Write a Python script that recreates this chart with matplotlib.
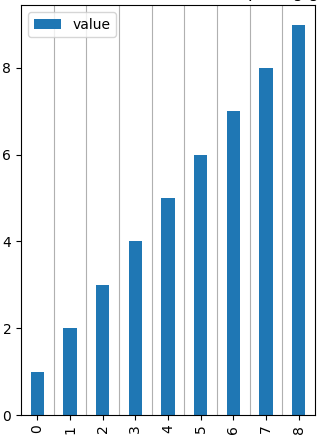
import matplotlib
matplotlib.use("Agg")
import matplotlib.pyplot as plt
import numpy as np

categories = ["0", "1", "2", "3", "4", "5", "6", "7", "8"]
values = [1, 2, 3, 4, 5, 6, 7, 8, 9]
series_name = "value"
title = "Bar chart with minor ticks as spacing grid"

fig = plt.figure(figsize=(3.18, 4.40), dpi=100)
ax = fig.add_axes([21 / 318, 25 / 440, 294 / 318, 410 / 440])

x = np.arange(len(categories))
ax.bar(x, values, width=0.4, color="#1f77b4", label=series_name)
ax.set_xlim(-0.5, len(categories) - 0.5)
ax.set_xticks(x)
ax.set_xticklabels(categories, rotation=90)

# grid lines between the bars
ax.set_xticks(x[:-1] + 0.5, minor=True)
ax.tick_params(axis="x", which="minor", length=0)
ax.grid(which="minor", axis="x", color="#b0b0b0", linewidth=0.8)
ax.set_axisbelow(True)

ax.legend(loc="upper left")
# title sits mostly above the canvas, only descenders show
ax.set_title(title, y=1.0, pad=5.5)

fig.savefig("out.png", dpi=100)
